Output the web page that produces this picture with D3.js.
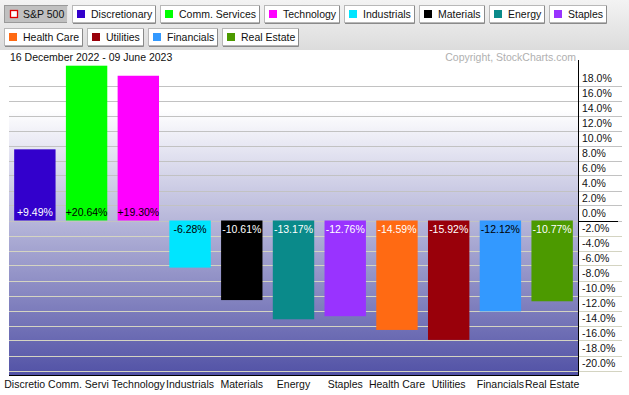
<!DOCTYPE html>
<html>
<head>
<meta charset="utf-8">
<script src="https://cdn.jsdelivr.net/npm/d3@7"></script>
<style>
  html, body { margin: 0; padding: 0; background: #ffffff; }
  svg { display: block; font-family: "Liberation Sans", Arial, sans-serif; }
</style>
</head>
<body>
<script>
// ---------- DATA ----------
const categories = ["Discretionary", "Comm. Services", "Technology", "Industrials", "Materials",
  "Energy", "Staples", "Health Care", "Utilities", "Financials", "Real Estate"];
const values = [9.49, 20.64, 19.30, -6.28, -10.61, -13.17, -12.76, -14.59, -15.92, -12.12, -10.77];
const legendLabels = ["S&P 500", "Discretionary", "Comm. Services", "Technology", "Industrials",
  "Materials", "Energy", "Staples", "Health Care", "Utilities", "Financials", "Real Estate"];
const yTickValues = [-20, -18, -16, -14, -12, -10, -8, -6, -4, -2, 0, 2, 4, 6, 8, 10, 12, 14, 16, 18];
const dateRangeText = "16 December 2022 - 09 June 2023";
const copyrightText = "Copyright, StockCharts.com";

// ---------- STYLE ----------
const barColors = ["#3300cc", "#00ff00", "#ff00ff", "#00e5ff", "#000000", "#0a8a8a",
  "#9933ff", "#ff6a13", "#99000a", "#3399ff", "#4c9a00"];
const labelColors = ["#fff", "#000", "#000", "#000", "#fff", "#fff", "#fff", "#fff", "#fff", "#000", "#fff"];
const FONT = 10.5;

const W = 629, H = 395;
const plot = { left: 9, right: 578, top: 63, bottom: 375 };

const svg = d3.select("body").append("svg").attr("width", W).attr("height", H);
const defs = svg.append("defs");

const hg = defs.append("linearGradient").attr("id", "hdr").attr("x1", 0).attr("y1", 0).attr("x2", 0).attr("y2", 1);
hg.append("stop").attr("offset", 0).attr("stop-color", "#f3f3f3");
hg.append("stop").attr("offset", 1).attr("stop-color", "#dcdcdc");

const pg = defs.append("linearGradient").attr("id", "plotbg").attr("x1", 0).attr("y1", 0).attr("x2", 0).attr("y2", 1);
pg.append("stop").attr("offset", 0).attr("stop-color", "#ffffff");
pg.append("stop").attr("offset", 0.15).attr("stop-color", "#ffffff");
pg.append("stop").attr("offset", 1).attr("stop-color", "#5252a6");

// ---------- HEADER ----------
svg.append("rect").attr("x", 0).attr("y", 0).attr("width", W).attr("height", 50).attr("fill", "url(#hdr)");

const legendColorMap = {"S&P 500": null};
categories.forEach((c, i) => legendColorMap[c] = barColors[i]);

let cx = 4, row = 0;
legendLabels.forEach((lab, i) => {
  if (i === 8) { cx = 4; row = 1; }
  const by = row === 0 ? 5 : 28;
  const g = svg.append("g").attr("transform", `translate(${cx},${by})`);
  const rect = g.append("rect").attr("x", 0.5).attr("y", 0.5).attr("height", 17);
  const txt = g.append("text").attr("x", 19).attr("y", 13).attr("font-size", FONT)
    .attr("fill", "#111").text(lab);
  const tw = txt.node().getComputedTextLength();
  const bw = Math.round(19 + tw + 4);
  const pressed = lab === "S&P 500";
  rect.attr("width", bw - 1).attr("fill", pressed ? "#c0c0c0" : "#ffffff")
    .attr("stroke", pressed ? "#9a9a9a" : "#b8b8b8");
  g.append("path").attr("d", `M${bw - 0.5},1V${18.5}H1`).attr("fill", "none")
    .attr("stroke", pressed ? "#e8e8e8" : "#8a8a8a");
  if (pressed) {
    g.append("rect").attr("x", 6.5).attr("y", 5.5).attr("width", 7).attr("height", 7)
      .attr("fill", "#fff").attr("stroke", "#e00000").attr("stroke-width", 1.3);
  } else {
    g.append("rect").attr("x", 5).attr("y", 5).attr("width", 8).attr("height", 8)
      .attr("fill", legendColorMap[lab]);
  }
  txt.raise();
  cx += bw + 4;
});

svg.append("text").attr("x", 10).attr("y", 61).attr("font-size", FONT).attr("fill", "#111").text(dateRangeText);
svg.append("text").attr("x", 576).attr("y", 61).attr("font-size", FONT).attr("fill", "#b0b0b0")
  .attr("text-anchor", "end").text(copyrightText);

// ---------- SCALES ----------
const x = d3.scaleBand().domain(categories).range([plot.left, plot.right]).paddingInner(0.2).paddingOuter(0.1);
const y = d3.scaleLinear().domain([-20.6, 21.0]).range([plot.bottom, plot.top]);

// ---------- PLOT BACKGROUND ----------
svg.append("rect").attr("x", plot.left).attr("y", plot.top).attr("width", plot.right - plot.left)
  .attr("height", plot.bottom - plot.top).attr("fill", "url(#plotbg)");

svg.append("g").selectAll("line").data(yTickValues).join("line")
  .attr("x1", plot.left).attr("x2", 622)
  .attr("y1", d => Math.round(y(d)) + 0.5).attr("y2", d => Math.round(y(d)) + 0.5)
  .attr("stroke", d => d >= 0 ? "#c2c2c2" : "#d4d4c2").attr("stroke-width", 1);

svg.append("line").attr("x1", plot.right).attr("x2", 618)
  .attr("y1", Math.round(y(0)) + 0.5).attr("y2", Math.round(y(0)) + 0.5).attr("stroke", "#000");

// ---------- BARS ----------
svg.append("g").selectAll("rect").data(categories).join("rect")
  .attr("x", d => x(d)).attr("width", x.bandwidth())
  .attr("y", (d, i) => y(Math.max(0, values[i])))
  .attr("height", (d, i) => Math.abs(y(values[i]) - y(0)))
  .attr("fill", (d, i) => barColors[i]);

svg.append("g").selectAll("text").data(categories).join("text")
  .attr("x", d => x(d) + x.bandwidth() / 2)
  .attr("y", (d, i) => values[i] >= 0 ? y(0) - 5 : y(0) + 12)
  .attr("text-anchor", "middle").attr("font-size", FONT)
  .attr("fill", (d, i) => labelColors[i])
  .text((d, i) => (values[i] >= 0 ? "+" : "") + values[i].toFixed(2) + "%");

// ---------- AXES ----------
const yAxis = d3.axisRight(y).tickValues(yTickValues).tickSize(0).tickFormat(d => d.toFixed(1) + "%");
const ag = svg.append("g").attr("transform", `translate(${plot.right},0)`).call(yAxis);
ag.select(".domain").remove();
ag.selectAll("text").attr("x", 4).attr("dy", "-0.35em").attr("font-size", FONT)
  .attr("font-family", "'Liberation Sans', Arial, sans-serif").attr("fill", "#111").attr("text-anchor", "start");

svg.append("line").attr("x1", plot.right + 0.5).attr("x2", plot.right + 0.5).attr("y1", 60).attr("y2", plot.bottom + 1)
  .attr("stroke", "#000");
svg.append("line").attr("x1", plot.left).attr("x2", plot.right + 1).attr("y1", plot.bottom + 0.5).attr("y2", plot.bottom + 0.5)
  .attr("stroke", "#000");

// x labels: centered; a label that runs into the next one is cut where the next begins
const xl = svg.append("g");
const xt = categories.map(c => xl.append("text").attr("y", 388).attr("font-size", FONT)
  .attr("fill", "#111").attr("text-anchor", "start").text(c));
const ext = categories.map((c, i) => {
  const w = xt[i].node().getComputedTextLength();
  const m = x(c) + x.bandwidth() / 2;
  return { s: m - w / 2, e: m + w / 2 };
});
categories.forEach((c, i) => {
  const t = xt[i];
  t.attr("x", ext[i].s);
  if (i < categories.length - 1 && ext[i].e > ext[i + 1].s) {
    const bound = ext[i + 1].s;
    const node = t.node();
    let n = c.length;
    while (n > 1 && ext[i].s + node.getSubStringLength(0, n) > bound + 0.5) n--;
    t.text(c.slice(0, n));
  }
});
</script>
</body>
</html>
